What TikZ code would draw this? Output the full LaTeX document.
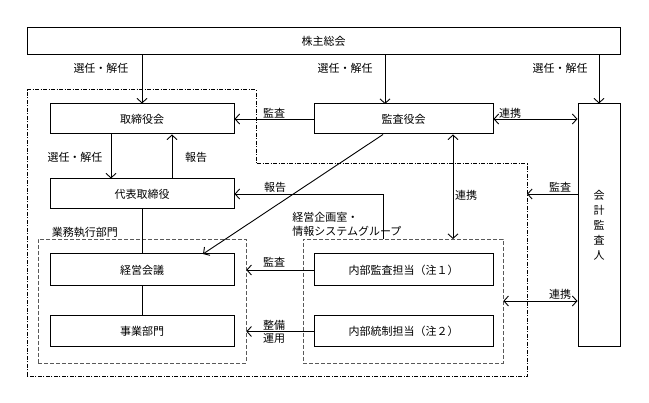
\documentclass[tikz,border=0pt]{standalone}
\usepackage{fontspec}
\newfontfamily\jpfont{Noto Sans CJK JP}
\usepackage{tikz}
\usetikzlibrary{arrows.meta}
\tikzset{
  blk/.style={draw, line width=1pt, minimum width=184pt, minimum height=30pt, inner sep=0pt},
  grp/.style={draw=black!65, dash pattern=on 4pt off 2pt, line width=0.7pt, minimum width=204pt, minimum height=124pt, inner sep=0pt},
  lbl/.style={inner sep=0pt, align=center},
  >={Straight Barb[length=4.5pt,width=10pt]}
}

\begin{document}
\begin{tikzpicture}[x=1pt,y=-1pt,line width=0.9pt,font=\jpfont\fontsize{11}{14}\selectfont] %[scale=0.8]
      \useasboundingbox (0,0) rectangle (649,403);
      \draw [line width=1pt, dash pattern=on 4pt off 1.5pt on 1pt off 1.5pt]
        (27,90) -- (256,90) -- (256,164) -- (527,164) -- (527,377) -- (27,377) -- cycle;
      \node [grp, minimum width=208pt] (gyomu) at (142,301) {};
      \node [grp, minimum width=200pt] (keiei) at (403,301) {};
      \node [blk, minimum width=593pt, minimum height=27pt] (sh) at (323.5,41.5) {株主総会};
      \node [blk] (tb) at (142,119) {取締役会};
      \node [blk, minimum width=179pt] (ka) at (403.5,119) {監査役会};
      \node [blk, minimum width=42pt, minimum height=243pt, align=center,
        font=\jpfont\fontsize{11}{15}\selectfont] (kk) at (599,225.5) {会\\計\\監\\査\\人};
      \node [blk] (dh) at (142,194) {代表取締役};
      \node [blk, minimum height=32pt] (kg) at (142,270) {経営会議};
      \node [blk, minimum height=31pt] (jb) at (142,331.5) {事業部門};
      \node [blk, minimum width=179pt, minimum height=32pt] (na) at (403.5,270) {内部監査担当（注１）};
      \node [blk, minimum width=179pt, minimum height=31pt] (nt) at (403.5,331.5) {内部統制担当（注２）};
      \coordinate (a1) at (385,104);
      \coordinate (t1) at ([xshift=-31pt]tb.south);
      \coordinate (t2) at ([xshift=30pt]tb.south);
      \coordinate (rk) at (453,239);
      \coordinate (hk) at (383,239);
      \coordinate (kt) at (203,254);
      \coordinate (bd) at (527,194);
      \draw [->] (sh.south -| tb.north) -- (tb.north);
      \draw [->] (sh.south -| a1) -- (a1);
      \draw [->] (sh.south -| kk.north) -- (kk.north);
      \draw [->] (t1) -- (t1 |- dh.north);
      \draw [->] (t2 |- dh.north) -- (t2);
      \draw [->] (ka.west) -- (tb.east);
      \draw [<->] (ka.east) -- (kk.west |- ka.east);
      \draw [<->] (ka.south -| rk) -- (rk);
      \draw [->] (hk) |- (dh.east);
      \draw [->] (ka.south -| hk) -- (kt);
      \draw [->] (bd -| kk.west) -- (bd);
      \draw [<->] (keiei.east) -- (kk.west |- keiei.east);
      \draw (dh.south) -- (kg.north);
      \draw (kg.south) -- (jb.north);
      \draw [->] (na.west) -- (na.west -| gyomu.east);
      \draw [->] (nt.west) -- (nt.west -| gyomu.east);
      \node [lbl] (l1) at (101,68) {選任・解任};
      \node [lbl] (l2) at (345,68) {選任・解任};
      \node [lbl] (l3) at (560,68) {選任・解任};
      \node [lbl] (l4) at (274,113) {監査};
      \node [lbl] (l5) at (510,113) {連携};
      \node [lbl] (l6) at (75,157) {選任・解任};
      \node [lbl] (l7) at (196,157) {報告};
      \node [lbl] (l8) at (275,187) {報告};
      \node [lbl] (l9) at (466,195) {連携};
      \node [lbl] (l10) at (560,187) {監査};
      \node [lbl, anchor=west, align=left] (l11) at (292,224.5) {経営企画室・\\情報システムグループ};
      \node [lbl] (l12) at (85,232) {業務執行部門};
      \node [lbl] (l13) at (274,262) {監査};
      \node [lbl, font=\jpfont\fontsize{11}{12.5}\selectfont] (l14) at (274,332) {整備\\運用};
      \node [lbl] (l15) at (560,294) {連携};
    \end{tikzpicture}
\end{document}
